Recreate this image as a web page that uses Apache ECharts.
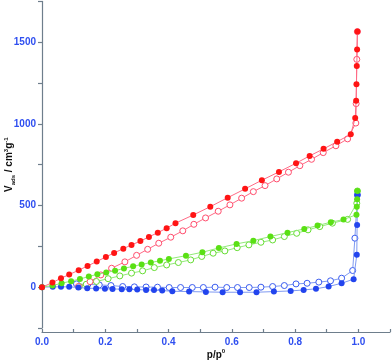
<!DOCTYPE html>
<html><head><meta charset="utf-8">
<script src="https://cdn.jsdelivr.net/npm/echarts@6/dist/echarts.min.js"></script>
<style>html,body{margin:0;padding:0;background:#fff}#c{width:392px;height:360px}</style>
</head><body><div id="c"></div>
<script>
// Red sample: adsorption (filled) / desorption (open)
var redAdsP = [0, 0.033, 0.06, 0.086, 0.116, 0.144, 0.173, 0.202, 0.228, 0.257, 0.283, 0.311, 0.338, 0.366, 0.394, 0.422, 0.478, 0.532, 0.587, 0.642, 0.695, 0.749, 0.803, 0.846, 0.890, 0.933, 0.976, 0.990, 0.993, 0.994, 0.995, 0.996, 0.997];
var redAdsV = [0, 28, 55, 77, 104, 130, 157, 185, 210, 236, 259, 282, 308, 334, 361, 392, 442, 493, 548, 602, 655, 706, 759, 804, 847, 891, 936, 1036, 1142, 1242, 1354, 1456, 1565];
var redDesP = [0.997, 0.995, 0.993, 0.992, 0.966, 0.929, 0.889, 0.852, 0.815, 0.779, 0.742, 0.705, 0.668, 0.631, 0.594, 0.557, 0.517, 0.480, 0.445, 0.407, 0.369, 0.334, 0.299, 0.262, 0.22, 0.186, 0.152, 0.115];
var redDesV = [1565, 1395, 1124, 1005, 908, 866, 824, 783, 744, 704, 663, 622, 585, 545, 504, 465, 424, 385, 345, 306, 269, 232, 195, 155, 116, 75, 34, 4];
// Green sample
var greenAdsP = [0, 0.033, 0.062, 0.092, 0.12, 0.148, 0.175, 0.203, 0.231, 0.259, 0.288, 0.315, 0.344, 0.373, 0.401, 0.455, 0.507, 0.559, 0.615, 0.668, 0.722, 0.776, 0.829, 0.871, 0.913, 0.953, 0.994, 0.995, 0.996, 0.997];
var greenAdsV = [0, 10, 24, 37, 50, 65, 79, 90, 101, 115, 128, 139, 151, 162, 173, 193, 214, 240, 265, 285, 310, 334, 357, 377, 398, 414, 444, 492, 539, 589];
var greenDesP = [0.997, 0.995, 0.966, 0.918, 0.878, 0.841, 0.805, 0.766, 0.729, 0.692, 0.654, 0.617, 0.578, 0.541, 0.505, 0.47, 0.431, 0.394, 0.355, 0.318, 0.283, 0.246, 0.209, 0.172, 0.140, 0.118];
var greenDesV = [589, 514, 415, 392, 371, 351, 330, 310, 289, 275, 259, 242, 222, 208, 188, 167, 151, 136, 120, 100, 86, 69, 52, 35, 18, 4];
// Blue sample
var blueAdsP = [0, 0.034, 0.06, 0.086, 0.115, 0.143, 0.171, 0.199, 0.223, 0.252, 0.276, 0.301, 0.329, 0.354, 0.38, 0.412, 0.465, 0.518, 0.571, 0.626, 0.678, 0.733, 0.786, 0.827, 0.866, 0.906, 0.947, 0.985, 0.995, 0.996, 0.997];
var blueAdsV = [0, 2, 2, 2, -2, -6, -8, -10, -11, -12, -13, -15, -17, -18, -21, -25, -27, -29, -31, -31, -31, -27, -23, -17, -10, 4, 24, 49, 198, 381, 565];
var blueDesP = [0.997, 0.989, 0.982, 0.947, 0.912, 0.875, 0.838, 0.803, 0.766, 0.729, 0.692, 0.655, 0.618, 0.584, 0.547, 0.51, 0.475, 0.438, 0.402, 0.365, 0.329, 0.292, 0.255, 0.218, 0.181, 0.145, 0.109];
var blueDesV = [565, 300, 102, 55, 39, 31, 24, 20, 10, 4, 0, -2, -2, -2, 0, -2, -2, -2, -2, 0, 1, 2, 4, 10, 14, 17, 20];

var xTicks = {min: 0, max: 1.1, step: 0.1};
var yTicks = {min: -250, max: 1750, step: 250};

function zip(p, v){ return p.map(function(x,i){ return [x, v[i]]; }); }

var labelBlue = '#2f4ff0';
var axisGrey = '#6e7e8c';

function filled(data, dot, line){
  return {type:'line', data:data, symbol:'circle', symbolSize:6, showSymbol:true,
    lineStyle:{color:line, width:1}, itemStyle:{color:dot, borderWidth:0}, z:3, animation:false};
}
function open(data, dot, line){
  return {type:'line', data:data, symbol:'circle', symbolSize:6, showSymbol:true,
    lineStyle:{color:line, width:1}, itemStyle:{color:'#ffffff', borderColor:dot, borderWidth:1}, z:2, animation:false};
}

var chart = echarts.init(document.getElementById('c'), null, {renderer:'canvas'});
chart.setOption({
  backgroundColor:'#ffffff',
  animation:false,
  grid:{left:42, right:2, top:1.4, bottom:32, containLabel:false, outerBoundsMode:'none'},
  xAxis:{type:'value', min:xTicks.min, max:xTicks.max, interval:xTicks.step, offset:4,
    name:'{t|p/p}{s|0}', nameLocation:'middle', nameGap:16, nameMoveOverlap:false,
    nameTextStyle:{rich:{t:{fontSize:10, fontWeight:'bold', color:'#111', fontFamily:'Liberation Sans, Arial', lineHeight:12, verticalAlign:'bottom'}, s:{fontSize:6, fontWeight:'bold', color:'#111', fontFamily:'Liberation Sans, Arial', verticalAlign:'top', lineHeight:12}}},
    axisLine:{onZero:false, lineStyle:{color:axisGrey, width:1.2}},
    axisTick:{inside:true, length:3, lineStyle:{color:axisGrey, width:1.2}},
    axisLabel:{margin:5, color:labelBlue, fontWeight:'bold', fontSize:10, fontFamily:'Liberation Sans, Arial',
      formatter:function(v){ var k=Math.round(v*10); return (k%2===0)? (k/10).toFixed(1) : ''; }},
    splitLine:{show:false}},
  yAxis:{type:'value', min:yTicks.min, max:yTicks.max, interval:yTicks.step, offset:1,
    name:'{t|V}{sub|ads}{t| / cm}{sup|3}{t|g}{sup|-1}', nameLocation:'middle', nameGap:25, nameRotate:90, nameMoveOverlap:false,
    nameTextStyle:{rich:{
      t:{fontSize:10, fontWeight:'bold', color:'#111', fontFamily:'Liberation Sans, Arial', lineHeight:13},
      sub:{fontSize:6, fontWeight:'bold', color:'#111', fontFamily:'Liberation Sans, Arial', verticalAlign:'bottom', lineHeight:13},
      sup:{fontSize:6, fontWeight:'bold', color:'#111', fontFamily:'Liberation Sans, Arial', verticalAlign:'top', lineHeight:13}}},
    axisLine:{lineStyle:{color:axisGrey, width:1.2}},
    axisTick:{inside:false, length:4, lineStyle:{color:axisGrey, width:1.2}},
    axisLabel:{margin:5, color:labelBlue, fontWeight:'bold', fontSize:10, fontFamily:'Liberation Sans, Arial',
      formatter:function(v){ return (v>=0 && v%500===0)? String(v) : ''; }},
    splitLine:{show:false}},
  series:[
    open(zip(blueDesP, blueDesV), '#3a5cf0', '#7f9af2'),
    filled(zip(blueAdsP, blueAdsV), '#2244ee', '#7f9af2'),
    open(zip(greenDesP, greenDesV), '#66dd33', '#92ea78'),
    filled(zip(greenAdsP, greenAdsV), '#5ae014', '#92ea78'),
    open(zip(redDesP, redDesV), '#ff4d6d', '#ff6b86'),
    filled(zip(redAdsP, redAdsV), '#ff1414', '#ff6b86')
  ]
});
</script></body></html>
